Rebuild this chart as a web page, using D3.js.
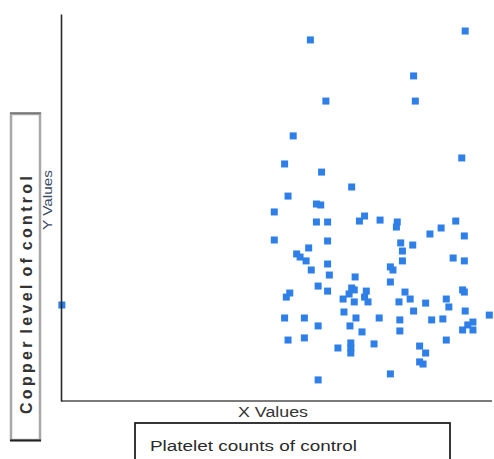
<!DOCTYPE html>
<html>
<head>
<meta charset="utf-8">
<script src="https://cdn.jsdelivr.net/npm/d3@7"></script>
<style>
  html, body { margin: 0; padding: 0; background: #fff; }
  svg { display: block; }
  text { font-family: "Liberation Sans", Arial, sans-serif; }
</style>
</head>
<body>
<svg id="chart" width="494" height="459"></svg>
<script>
// Platelet counts of control (x) and copper level of control (y)
const plateletCounts = [
  290, 470, 410, 308, 412, 270, 260, 303, 466, 338,
  264, 297, 302, 248, 297, 310, 347, 353, 371, 391,
  390, 442, 459, 429, 469, 248, 310, 288, 274, 278,
  285, 395, 397, 409, 310, 291, 312, 342, 397, 383,
  386, 456, 469, 383, 299, 310, 266, 262, 338, 341,
  335, 328, 341, 355, 353, 357, 400, 406, 393, 424,
  448, 451, 467, 469, 470, 498, 329, 343, 410, 260,
  283, 370, 394, 431, 444, 299, 336, 479, 473, 467,
  479, 350, 394, 264, 283, 448, 322, 337, 337, 337,
  364, 417, 424, 417, 421, 383, 299, 1
];
const copperLevels = [
  186.6, 191.2, 168.0, 155.0, 155.0, 137.0, 122.5, 118.3, 125.6, 110.6,
  105.9, 101.8, 101.3, 97.7, 92.5, 92.5, 93.0, 95.6, 93.5, 92.5,
  89.9, 89.4, 93.0, 86.3, 85.3, 83.2, 82.7, 79.1, 76.0, 74.4,
  72.4, 81.7, 77.5, 80.6, 70.8, 67.7, 65.1, 64.1, 72.4, 69.3,
  67.7, 73.9, 72.4, 61.5, 59.4, 56.8, 55.8, 53.7, 58.4, 57.4,
  55.3, 52.7, 51.2, 56.8, 53.7, 51.2, 56.3, 52.7, 51.2, 50.6,
  52.7, 48.6, 57.4, 56.3, 46.5, 44.4, 46.0, 42.9, 46.5, 42.9,
  42.9, 42.9, 41.9, 41.9, 42.4, 38.8, 38.8, 40.8, 39.3, 36.7,
  36.7, 35.7, 36.2, 31.5, 32.6, 31.5, 27.4, 30.0, 27.4, 24.8,
  29.5, 28.4, 24.8, 20.2, 19.1, 14.0, 10.9, 49.6
];
const xDomain = [0, 500];
const yDomain = [0, 200];
const xAxisLabel = "X Values";
const yAxisLabel = "Y Values";
const xTitle = "Platelet counts of control";
const yTitle = "Copper level of control";

const points = plateletCounts.map((v, i) => ({ x: v, y: copperLevels[i] }));

const svg = d3.select("#chart");
const x = d3.scaleLinear().domain(xDomain).range([61, 491]);
const y = d3.scaleLinear().domain(yDomain).range([401, 14]);

// markers
const m = 7;
svg.append("g")
  .selectAll("rect")
  .data(points)
  .join("rect")
  .attr("x", d => x(d.x) - m / 2)
  .attr("y", d => y(d.y) - m / 2)
  .attr("width", m)
  .attr("height", m)
  .attr("fill", "#2f7fe8");

// axes (no ticks)
const xAxis = svg.append("g")
  .attr("transform", `translate(0,${y(0)})`)
  .call(d3.axisBottom(x).ticks(0).tickSizeOuter(0));
xAxis.select(".domain").attr("stroke", "#7a7a7a").attr("stroke-width", 2)
  .attr("d", `M${x(0)},0H${x(0) + 431}`);

const yAxis = svg.append("g")
  .attr("transform", `translate(${x(0)},0)`)
  .call(d3.axisLeft(y).ticks(0).tickSizeOuter(0));
yAxis.select(".domain").attr("stroke", "#2a2a2a").attr("stroke-width", 1.6);

// axis labels
svg.append("text")
  .attr("x", 238).attr("y", 417)
  .attr("font-size", 14)
  .attr("fill", "#333")
  .attr("textLength", 70).attr("lengthAdjust", "spacingAndGlyphs")
  .text(xAxisLabel);

svg.append("text")
  .attr("transform", "translate(52,230) rotate(-90)")
  .attr("font-size", 12)
  .attr("fill", "#3a4a66")
  .attr("textLength", 60).attr("lengthAdjust", "spacingAndGlyphs")
  .text(yAxisLabel);

// y title box
svg.append("rect")
  .attr("x", 11).attr("y", 114).attr("width", 29).attr("height", 326)
  .attr("fill", "none").attr("stroke", "#a8a8a8").attr("stroke-width", 2.5);
svg.append("line")
  .attr("x1", 10).attr("x2", 41).attr("y1", 440.5).attr("y2", 440.5)
  .attr("stroke", "#222").attr("stroke-width", 2);
svg.append("line")
  .attr("x1", 10).attr("x2", 41).attr("y1", 113).attr("y2", 113)
  .attr("stroke", "#555").attr("stroke-width", 1.2);
svg.append("text")
  .attr("transform", "translate(31.5,414) rotate(-90)")
  .attr("font-size", 16).attr("font-weight", "bold")
  .attr("fill", "#333")
  .style("letter-spacing", "3.3px")
  .style("word-spacing", "-3px")
  .text(yTitle);

// x title box
svg.append("rect")
  .attr("x", 135).attr("y", 423).attr("width", 315).attr("height", 50)
  .attr("fill", "none").attr("stroke", "#222").attr("stroke-width", 1.8);
svg.append("text")
  .attr("x", 150).attr("y", 451)
  .attr("font-size", 14)
  .attr("fill", "#2a2a2a")
  .attr("textLength", 207).attr("lengthAdjust", "spacingAndGlyphs")
  .text(xTitle);
</script>
</body>
</html>
